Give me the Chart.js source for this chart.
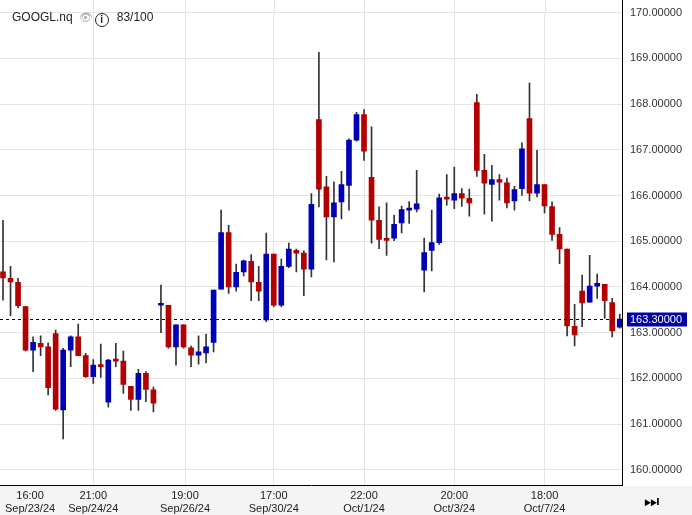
<!DOCTYPE html>
<html><head><meta charset="utf-8">
<script src="https://cdn.jsdelivr.net/npm/chart.js@4.4.1/dist/chart.umd.min.js"></script>
<style>
html,body{margin:0;padding:0;background:#fff;font-family:Arial,"Liberation Sans",sans-serif;}
#wrap{position:relative;width:692px;height:515px;}
#bot{position:absolute;left:0;top:486px;width:692px;height:29px;background:#f4f4f4;}
#title{position:absolute;left:12px;top:10px;font-size:12px;color:#222;}
#title .eye{color:#aaa;font-size:11px;margin:0 2px 0 6px;}
#title .inf{display:inline-block;width:12px;height:12px;border:1.5px solid #222;border-radius:50%;font-size:10px;line-height:12px;text-align:center;font-weight:bold;margin-right:8px;vertical-align:-2px;}
#ff{position:absolute;left:644px;top:492px;font-size:17px;color:#000;}
canvas{position:absolute;left:0;top:0;}
</style></head>
<body><div id="wrap"><div id="bot"></div><canvas id="c" width="692" height="515"></canvas>
<div id="title">GOOGL.nq<span class="eye">👁</span><span class="inf">i</span>83/100</div>
<div id="ff">⏭</div></div>
<script>
const opens = [164.33,164.19,164.10,163.57,162.62,162.77,162.69,162.98,161.31,162.62,162.91,162.50,162.04,162.30,161.48,162.40,162.38,161.83,161.54,162.11,161.75,163.60,163.60,162.69,163.17,162.67,162.51,162.56,162.79,163.95,165.19,164.00,164.33,164.56,164.10,163.28,164.72,163.60,164.45,164.80,164.74,164.39,167.66,166.19,165.53,165.86,166.22,167.21,167.77,166.40,165.46,165.04,165.07,165.40,165.68,165.70,164.37,164.80,164.97,165.96,165.90,166.04,165.94,168.03,166.55,166.24,166.35,166.28,165.88,166.15,167.68,166.05,166.24,165.76,165.15,164.83,163.14,163.91,163.67,164.02,164.06,163.66,163.12];
const closes = [164.20,164.11,163.59,162.62,162.79,162.69,161.80,161.33,162.62,162.91,162.50,162.04,162.29,162.26,162.40,162.38,161.87,161.54,162.11,161.76,161.46,163.61,162.69,163.17,162.69,162.51,162.58,162.69,163.93,165.19,164.00,164.32,164.57,164.11,163.91,164.72,163.60,164.45,164.83,164.74,164.39,165.81,166.14,165.53,165.84,166.24,167.21,167.77,166.97,165.46,165.04,165.02,165.37,165.69,165.70,165.82,164.75,164.97,165.95,165.92,166.04,165.94,165.84,166.55,166.27,166.35,166.29,165.84,166.13,167.02,166.05,166.24,165.77,165.15,164.83,163.15,162.95,163.65,164.02,164.08,163.70,163.04,163.30];
const highs = [165.46,164.45,164.19,163.57,162.91,162.93,162.78,163.06,162.66,162.93,163.19,162.55,162.41,162.75,162.42,162.77,162.60,161.83,162.20,162.15,161.81,164.04,163.60,163.17,163.17,162.71,162.93,162.97,163.93,165.68,165.35,164.50,164.59,164.71,164.45,165.18,164.72,164.61,164.96,164.83,164.79,166.04,169.13,166.42,166.30,166.53,167.24,167.82,167.88,167.50,165.75,165.84,165.57,165.77,165.87,166.55,165.07,165.68,166.03,166.46,166.62,166.15,166.14,168.21,166.90,166.66,166.46,166.38,166.20,167.15,168.46,166.99,166.24,165.86,165.30,164.83,163.62,164.26,164.69,164.28,164.06,163.75,163.41];
const lows = [163.71,163.37,163.54,162.60,162.15,162.50,161.64,161.30,160.68,162.26,162.50,162.02,161.89,162.02,161.37,162.26,161.67,161.30,161.30,161.49,161.27,163.00,162.66,162.29,162.66,162.26,162.31,162.34,162.58,163.95,163.86,163.91,164.24,163.70,163.70,163.24,163.57,163.57,164.42,164.33,163.81,164.22,165.75,164.59,164.55,165.49,165.68,167.19,166.77,164.96,164.84,164.69,165.01,165.18,165.39,165.64,163.89,164.35,164.93,165.79,165.71,165.76,165.55,166.42,165.59,165.44,165.90,165.73,165.68,166.00,165.88,165.97,165.62,165.02,164.51,162.93,162.71,163.13,163.67,163.75,163.31,162.91,163.10];
const xTickPos = [3.6,12,24.2,36,48,60,72];
const xTickLabels = [["16:00","Sep/23/24"],["21:00","Sep/24/24"],["19:00","Sep/26/24"],["17:00","Sep/30/24"],["22:00","Oct/1/24"],["20:00","Oct/3/24"],["18:00","Oct/7/24"]];
const yTicks = [160,161,162,163,164,165,166,167,168,169,170];
const lastPrice = 163.30;

const RED='#b30000', BLUE='#0000b4';
const col = ctx => closes[ctx.dataIndex] >= opens[ctx.dataIndex] ? BLUE : RED;
const bodies = opens.map((o,i)=>({x:i,y:[o,closes[i]]}));
const wicks = highs.map((h,i)=>({x:i,y:[lows[i],h]}));

const overlay = {
  id:'overlay',
  beforeDraw(chart){
    const {ctx,chartArea:a} = chart;
    ctx.save();ctx.strokeStyle='#e4e4e4';ctx.lineWidth=1;
    xTickPos.slice(1).forEach(v=>{const px=Math.round(chart.scales.x.getPixelForValue(v))+0.5;ctx.beginPath();ctx.moveTo(px,0);ctx.lineTo(px,a.top);ctx.stroke();});
    ctx.beginPath();ctx.moveTo(a.right+0.5,0);ctx.lineTo(a.right+0.5,a.top);ctx.strokeStyle='#000';ctx.stroke();
    ctx.restore();
  },
  afterDatasetsDraw(chart){
    const {ctx,chartArea:a,scales:{y}} = chart;
    const py = Math.round(y.getPixelForValue(lastPrice))+0.5;
    ctx.save();
    ctx.strokeStyle='#000';ctx.lineWidth=1;ctx.setLineDash([3,3]);
    ctx.beginPath();ctx.moveTo(a.left,py);ctx.lineTo(a.right,py);ctx.stroke();
    ctx.setLineDash([]);
    ctx.fillStyle='#0000a8';ctx.fillRect(a.right+5,py-7,60,14);
    ctx.fillStyle='#fff';ctx.font='11px Arial, "Liberation Sans"';ctx.textBaseline='middle';
    ctx.fillText(lastPrice.toFixed(5),a.right+8,py);
    ctx.restore();
  }
};

new Chart(document.getElementById('c'),{
  type:'bar',
  data:{datasets:[
    {data:wicks,backgroundColor:'#333',barThickness:1,grouped:false,order:2},
    {data:bodies,backgroundColor:col,barThickness:5,grouped:false,minBarLength:2,order:1}
  ]},
  options:{
    responsive:false,animation:false,
    layout:{padding:0},
    plugins:{legend:{display:false},tooltip:{enabled:false}},
    scales:{
      x:{type:'linear',min:-0.4,max:82.3,offset:false,
        afterBuildTicks(s){s.ticks=xTickPos.map(v=>({value:v}));},
        afterFit(s){s.height=30;},
        ticks:{callback:(v,i)=>xTickLabels[i],color:'#222',font:{size:11,family:'Arial, "Liberation Sans"'},maxRotation:0,autoSkip:false,padding:4},
        grid:{offset:false,color:c=>c.index===0?'rgba(0,0,0,0)':'#e4e4e4',drawTicks:false},
        border:{color:'#000',width:1}
      },
      y:{position:'right',min:159.67,max:169.956,
        afterBuildTicks(s){s.ticks=yTicks.map(v=>({value:v}));},
        afterFit(s){s.width=70;},
        ticks:{callback:v=>v.toFixed(5),color:'#333',font:{size:11,family:'Arial, "Liberation Sans"'},padding:8},
        grid:{color:'#e4e4e4',drawTicks:false},
        border:{color:'#000',width:1}
      }
    }
  },
  plugins:[overlay]
});
</script></body></html>
